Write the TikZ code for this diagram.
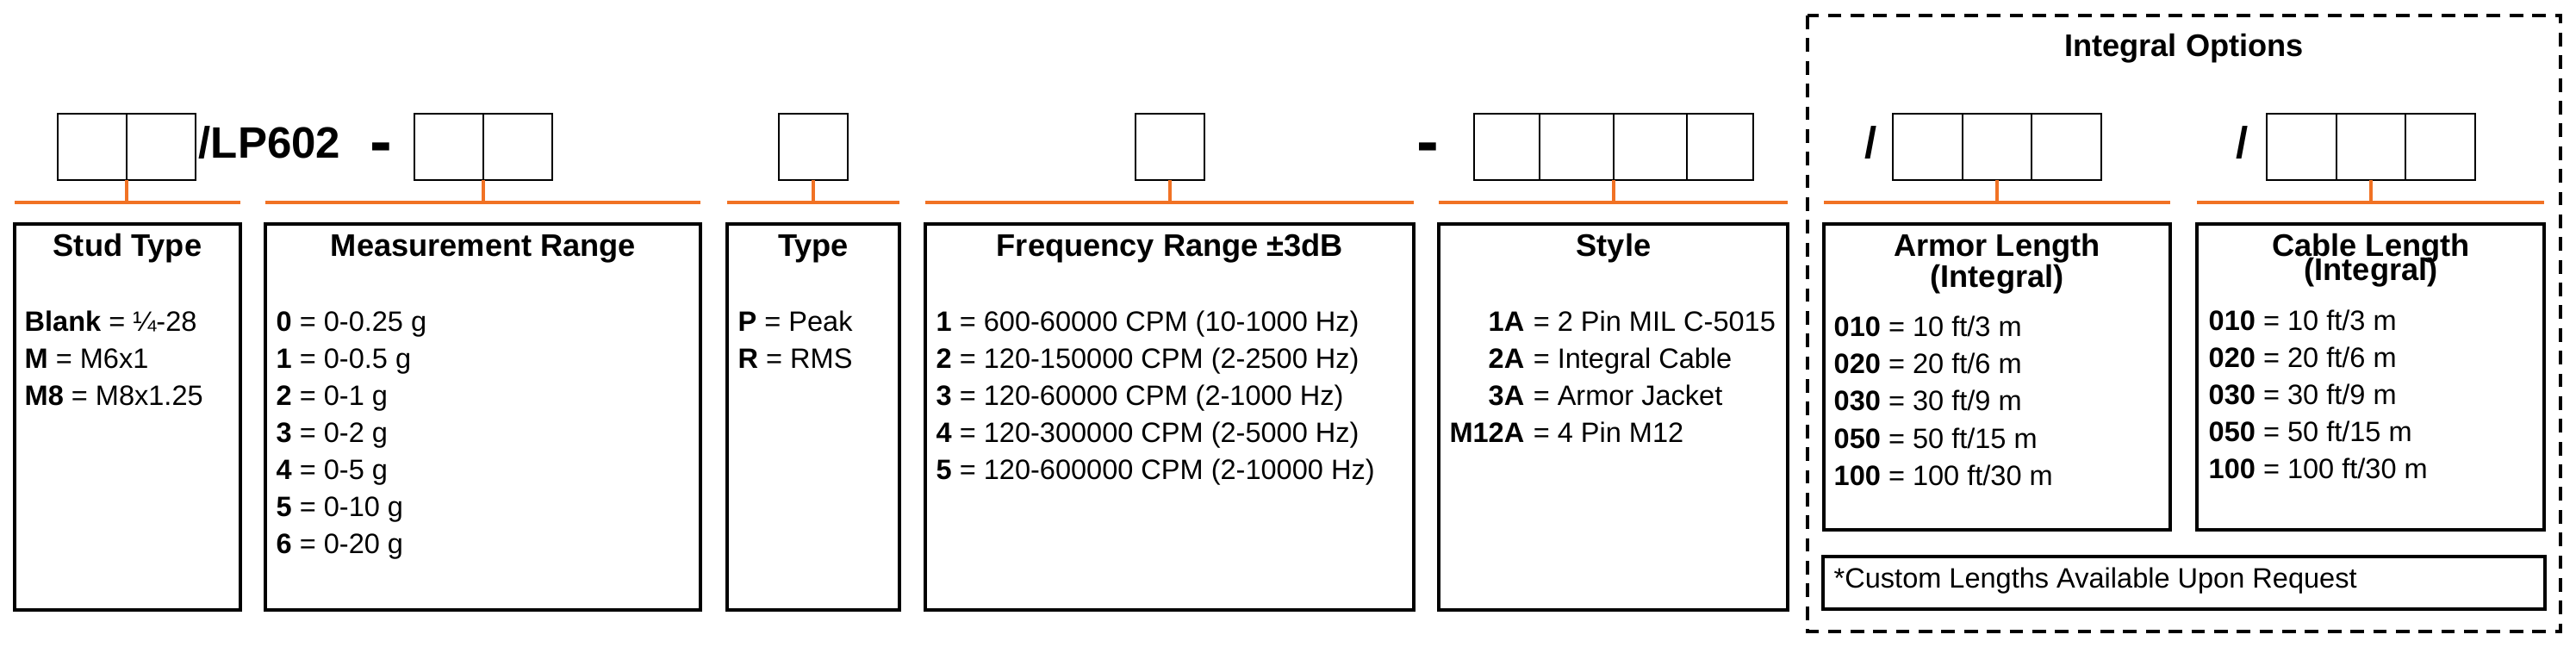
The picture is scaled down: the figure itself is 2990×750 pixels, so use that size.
\documentclass[tikz,border=0pt]{standalone}
\usepackage{fontspec}
\setmainfont{Liberation Sans}
\usetikzlibrary{positioning}
\definecolor{barorange}{RGB}{241,114,36}
\tikzset{
  cell/.style={draw, line width=.6pt, anchor=north west, inner sep=0, outer sep=0, minimum width=.8cm, minimum height=.77cm},
  infobox/.style={draw, line width=1pt},
  optbox/.style={draw, line width=1pt, dash pattern=on 4.5pt off 3pt},
  bar/.style={barorange, line width=1.1pt},
  boxtitle/.style={anchor=base, inner sep=0, font=\fontsize{10.3}{12}\selectfont\bfseries},
  entry/.style={anchor=base west, inner sep=0, font=\fontsize{9.25}{11}\selectfont},
  partno/.style={anchor=base west, inner sep=0, font=\fontsize{14.5}{17}\selectfont\bfseries},
  dashsep/.style={anchor=base, inner sep=0, font=\fontsize{22}{24}\selectfont\bfseries}
}
\begin{document}
\begin{tikzpicture}[x=.01cm, y=-.01cm]
\useasboundingbox (0,0) rectangle (2990,750);
\draw[optbox] (2098,18) rectangle (2972,733);
\node[boxtitle] (opttitle) at (2535,65) {Integral Options};

\node[cell] (stud1) at (67,132) {};
\node[cell, right=0pt of stud1] (stud2) {};
\node[partno] (lp) at (230,183) {/LP602};
\node[dashsep] (dash1) at (442,190) {-};
\node[cell] (meas1) at (481,132) {};
\node[cell, right=0pt of meas1] (meas2) {};
\node[cell] (type) at (904,132) {};
\node[cell] (freq) at (1318,132) {};
\node[dashsep] (dash2) at (1657,190) {-};
\foreach \n/\x/\w in {1/1711/.76, 2/1787/.86, 3/1873/.85, 4/1958/.77}
  \node[cell, minimum width=\w cm] (style\n) at (\x,132) {};
\node[partno, anchor=base] (slash1) at (2172,183) {/};
\node[cell, minimum width=.805cm] (armor1) at (2197,132) {};
\node[cell, minimum width=.805cm, right=0pt of armor1] (armor2) {};
\node[cell, minimum width=.805cm, right=0pt of armor2] (armor3) {};
\node[partno, anchor=base] (slash2) at (2603,183) {/};
\node[cell, minimum width=.805cm] (cable1) at (2631,132) {};
\node[cell, minimum width=.805cm, right=0pt of cable1] (cable2) {};
\node[cell, minimum width=.805cm, right=0pt of cable2] (cable3) {};

\foreach \f/\l/\r/\b in {stud/17/279/708, meas/308/813/708, type/844/1044/708, freq/1074/1641/708, style/1670/2075/708, armor/2117/2519/615, cable/2550/2953/615}{
  \coordinate (\f bar) at (\l,235);
  \draw[bar] (\l,235) -- (\r,235);
  \draw[infobox] (\l,260) rectangle (\r,\b);
}
\draw[bar] (stud1.south east) -- (stud1.south east |- studbar);
\draw[bar] (meas1.south east) -- (meas1.south east |- measbar);
\draw[bar] (type.south) -- (type.south |- typebar);
\draw[bar] (freq.south) -- (freq.south |- freqbar);
\draw[bar] (style2.south east) -- (style2.south east |- stylebar);
\draw[bar] (armor2.south) -- (armor2.south |- armorbar);
\draw[bar] (cable2.south) -- (cable2.south |- cablebar);

\node[boxtitle] (studtitle) at (148,297) {Stud Type};
\node[boxtitle] (meastitle) at (561,297) {Measurement Range};
\node[boxtitle] (typetitle) at (944,297) {Type};
\node[boxtitle] (freqtitle) at (1358,297) {Frequency Range ±3dB};
\node[boxtitle] (styletitle) at (1873,297) {Style};
\node[boxtitle] (armortitle) at (2318,297) {Armor Length};
\node[boxtitle] (armorsub) at (2318,333) {(Integral)};
\node[boxtitle] (cabletitle) at (2752,297) {Cable Length};
\node[boxtitle] (cablesub) at (2752,325) {(Integral)};

\foreach \c/\t [count=\i] in {Blank/¼-28, M/M6x1, M8/M8x1.25}
  \node[entry] (studline\i) at (28,{341+43*\i}) {\textbf{\c} = \t};
\foreach \c/\t [count=\i] in {0/0-0.25 g, 1/0-0.5 g, 2/0-1 g, 3/0-2 g, 4/0-5 g, 5/0-10 g, 6/0-20 g}
  \node[entry] (measline\i) at (320,{341+43*\i}) {\textbf{\c} = \t};
\foreach \c/\t [count=\i] in {P/Peak, R/RMS}
  \node[entry] (typeline\i) at (856,{341+43*\i}) {\textbf{\c} = \t};
\foreach \c/\t [count=\i] in {1/600-60000 CPM (10-1000 Hz), 2/120-150000 CPM (2-2500 Hz), 3/120-60000 CPM (2-1000 Hz), 4/120-300000 CPM (2-5000 Hz), 5/120-600000 CPM (2-10000 Hz)}
  \node[entry] (freqline\i) at (1086,{341+43*\i}) {\textbf{\c} = \t};
\foreach \c/\t [count=\i] in {1A/2 Pin MIL C-5015, 2A/Integral Cable, 3A/Armor Jacket, M12A/4 Pin M12}{
  \node[entry, anchor=base east] (stylecode\i) at (1770,{341+43*\i}) {\textbf{\c}};
  \node[entry] (styleline\i) at (stylecode\i.base east) {\ = \t};
}
\foreach \c/\t [count=\i] in {010/{10 ft/3 m}, 020/{20 ft/6 m}, 030/{30 ft/9 m}, 050/{50 ft/15 m}, 100/{100 ft/30 m}}{
  \node[entry] (armorline\i) at (2128,{347+43.3*\i}) {\textbf{\c} = \t};
  \node[entry] (cableline\i) at (2563,{340+43*\i}) {\textbf{\c} = \t};
}
\draw[infobox] (2116,646) rectangle (2954,707);
\node[entry] (custom) at (2128,682) {*Custom Lengths Available Upon Request};
\end{tikzpicture}
\end{document}
